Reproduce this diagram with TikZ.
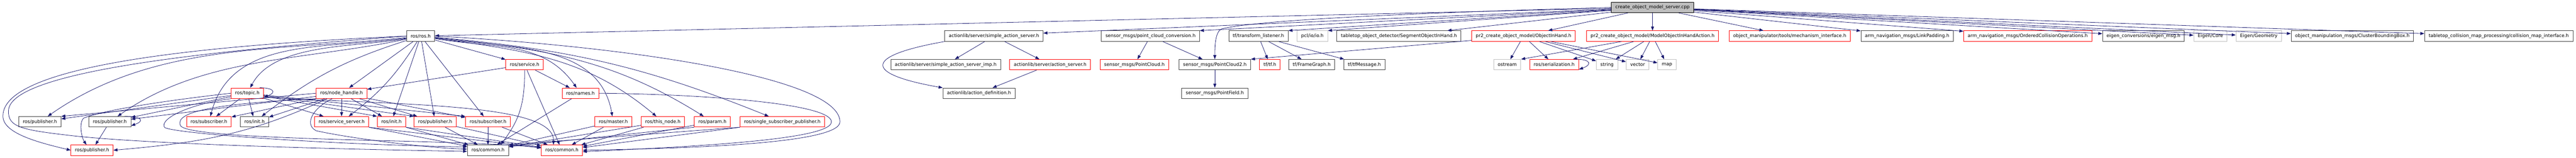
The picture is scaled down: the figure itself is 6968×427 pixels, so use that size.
\documentclass[tikz,border=0pt]{standalone}
\usepackage{fontspec}
\setmainfont{DejaVu Sans}
\usetikzlibrary{arrows.meta}
\definecolor{edgeblue}{HTML}{191970}
\definecolor{docgray}{HTML}{404040}
\definecolor{truncred}{HTML}{FF0000}
\definecolor{extgray}{HTML}{BFBFBF}
\tikzset{
    docfile/.style={
           rectangle,
           draw=docgray, line width=1.3pt,
           fill=white,
           minimum height=28.3pt,
           inner xsep=11pt, inner ysep=1pt,
           font=\fontsize{12.5}{14}\selectfont,
           text centered,
           },
    truncfile/.style={docfile, draw=truncred},
    extfile/.style={docfile, draw=extgray},
    rootfile/.style={docfile, draw=black, fill=extgray},
    inc/.style={draw=edgeblue, line width=1.1pt},
}
\begin{document}
\begin{tikzpicture}[->,>={Triangle[length=11pt,width=8pt]},
                    x=1pt,y=1pt,
                    every edge/.style={inc}]
  \useasboundingbox (0,0) rectangle (6968,-427);

  % the file itself
  \node[rootfile]  (root)    at (4470,-20.3)   {create\_object\_model\_server.cpp};

  % direct includes
  \node[docfile]   (ros)     at (1138,-97.7)   {ros/ros.h};
  \node[docfile]   (sas)     at (2688.5,-97.7) {actionlib/server/simple\_action\_server.h};
  \node[docfile]   (pcc)     at (3112,-97.7)   {sensor\_msgs/point\_cloud\_conversion.h};
  \node[docfile]   (tl)      at (3404,-97.7)   {tf/transform\_listener.h};
  \node[extfile]   (pclio)   at (3550,-97.7)   {pcl/io/io.h};
  \node[docfile]   (seg)     at (3784,-97.7)   {tabletop\_object\_detector/SegmentObjectInHand.h};
  \node[truncfile] (oih)     at (4121,-97.7)   {pr2\_create\_object\_model/ObjectInHand.h};
  \node[truncfile] (moa)     at (4470,-97.7)   {pr2\_create\_object\_model/ModelObjectInHandAction.h};
  \node[truncfile] (mech)    at (4841,-97.7)   {object\_manipulator/tools/mechanism\_interface.h};
  \node[docfile]   (linkpad) at (5158.6,-97.7) {arm\_navigation\_msgs/LinkPadding.h};
  \node[truncfile] (occ)     at (5485,-97.7)   {arm\_navigation\_msgs/OrderedCollisionOperations.h};
  \node[docfile]   (eigmsg)  at (5798,-97.7)   {eigen\_conversions/eigen\_msg.h};
  \node[extfile]   (ecore)   at (5979,-97.7)   {Eigen/Core};
  \node[extfile]   (egeom)   at (6110,-97.7)   {Eigen/Geometry};
  \node[docfile]   (cbb)     at (6363,-97.7)   {object\_manipulation\_msgs/ClusterBoundingBox.h};
  \node[docfile]   (cmi)     at (6759,-97.7)   {tabletop\_collision\_map\_processing/collision\_map\_interface.h};

  % second level
  \node[truncfile] (service) at (1419,-175.2)   {ros/service.h};
  \node[docfile]   (sasimp)  at (2558,-175.2)   {actionlib/server/simple\_action\_server\_imp.h};
  \node[truncfile] (actserv) at (2840.5,-175.2) {actionlib/server/action\_server.h};
  \node[truncfile] (pc)      at (3068.5,-175.2) {sensor\_msgs/PointCloud.h};
  \node[docfile]   (pc2)     at (3286,-175.2)   {sensor\_msgs/PointCloud2.h};
  \node[truncfile] (tftf)    at (3435,-175.2)   {tf/tf.h};
  \node[docfile]   (fg)      at (3548,-175.2)   {tf/FrameGraph.h};
  \node[docfile]   (tfmsg)   at (3690.5,-175.2) {tf/tfMessage.h};
  \node[extfile]   (ostream) at (4077,-175.2)   {ostream};
  \node[truncfile] (ser)     at (4204,-175.2)   {ros/serialization.h};
  \node[extfile]   (str)     at (4347,-175.2)   {string};
  \node[extfile]   (vec)     at (4429.5,-175.2) {vector};
  \node[extfile]   (map)     at (4509,-175.2)   {map};

  % third level
  \node[truncfile] (topic)   at (669,-252.5)    {ros/topic.h};
  \node[truncfile] (nh)      at (924,-252.5)    {ros/node\_handle.h};
  \node[truncfile] (names)   at (1570,-252.5)   {ros/names.h};
  \node[docfile]   (actdef)  at (2648,-252.5)   {actionlib/action\_definition.h};
  \node[docfile]   (pf)      at (3286,-252.5)   {sensor\_msgs/PointField.h};

  % fourth level
  \node[docfile]   (pubA)     at (108,-329.8)   {ros/publisher.h};
  \node[docfile]   (pubB)     at (297,-329.8)   {ros/publisher.h};
  \node[truncfile] (subA)     at (565,-329.8)   {ros/subscriber.h};
  \node[docfile]   (initA)    at (688.5,-329.8) {ros/init.h};
  \node[truncfile] (ss)       at (924,-329.8)   {ros/service\_server.h};
  \node[truncfile] (initB)    at (1059,-329.8)  {ros/init.h};
  \node[truncfile] (pubC)     at (1177,-329.8)  {ros/publisher.h};
  \node[truncfile] (subB)     at (1320,-329.8)  {ros/subscriber.h};
  \node[truncfile] (master)   at (1659,-329.8)  {ros/master.h};
  \node[truncfile] (thisnode) at (1793,-329.8)  {ros/this\_node.h};
  \node[truncfile] (param)    at (1927,-329.8)  {ros/param.h};
  \node[truncfile] (ssp)      at (2116,-329.8)  {ros/single\_subscriber\_publisher.h};

  % bottom level
  \node[truncfile] (pubD)    at (249,-406.8)    {ros/publisher.h};
  \node[docfile]   (comA)    at (1320,-406.8)   {ros/common.h};
  \node[truncfile] (comB)    at (1520,-406.8)   {ros/common.h};

  % includes of the file itself
  \foreach \n in {ros,seg,oih,moa,mech,linkpad,occ,eigmsg,ecore,egeom,cbb,cmi}
    \path (root) edge (\n);
  \path (root) edge ([yshift=8pt]sas.east)
        (root) edge (pcc.north east)
        (root) edge (tl.north east)
        (root) edge (pclio.north east);
  \draw[inc] (root.west) .. controls (3800,-35) and (3400,-55) .. (3305,-78)
             .. controls (3288,-85) and (3286,-120) .. (pc2.north);

  % ros/ros.h
  \draw[inc] (ros.west) .. controls (600,-120) and (10,-170) .. (8,-313)
             .. controls (6,-360) and (100,-385) .. (pubD.west);
  \draw[inc] (ros.west) .. controls (600,-135) and (25,-190) .. (23,-300)
             .. controls (21,-345) and (60,-352) .. (200,-368)
             .. controls (400,-390) and (900,-404) .. ([yshift=-3pt]comA.west);
  \draw[inc] (ros.east) .. controls (1700,-125) and (2272,-210) .. (2272,-330)
             .. controls (2272,-390) and (1850,-402) .. (comB.east);
  \path (ros) edge[out=186,in=35,looseness=0.9] (pubA)
        (ros) edge[out=192,in=35,looseness=0.9] (pubB)
        (ros) edge[out=188,in=75] (subA)
        (ros) edge[out=190,in=62,looseness=0.8] (topic)
        (ros) edge[bend right=10] (initA)
        (ros) edge (nh)
        (ros) edge[bend left=10] (ss)
        (ros) edge (initB)
        (ros) edge (pubC)
        (ros) edge (subB)
        (ros) edge (service)
        (ros) edge[out=-10,in=125] (names)
        (ros) edge[out=-8,in=100] (master)
        (ros) edge[out=-8,in=140] (thisnode)
        (ros) edge[out=-6,in=148] (param)
        (ros) edge[out=-5,in=158] (ssp);

  % ros/topic.h
  \path ([xshift=-11pt]topic.north east) edge[out=0,in=20,looseness=3.5] ([yshift=4pt]topic.south east)
        (topic) edge (subA)
        (topic) edge (initA)
        (topic) edge (ss)
        (topic) edge (initB.north west)
        (topic) edge (pubC.north west)
        (topic) edge (subB.north west)
        (topic) edge (pubA)
        (topic) edge (pubB);
  \draw[inc] (topic.west) .. controls (450,-272) and (280,-298) .. (226,-320)
             .. controls (212,-335) and (222,-375) .. ([xshift=-15pt]pubD.north);
  \draw[inc] (topic.south west) .. controls (520,-280) and (430,-320) .. (445,-345)
             .. controls (470,-362) and (900,-392) .. ([yshift=9pt]comA.west);
  \draw[inc] ([yshift=4pt]topic.south east) .. controls (1100,-285) and (1500,-280)
             .. ([xshift=-23pt]comB.north);

  % ros/node_handle.h
  \path (nh) edge (ss)
        (nh) edge (initB)
        (nh) edge (pubC)
        (nh) edge (subB)
        (nh) edge (initA)
        (nh) edge (subA)
        (nh) edge (pubB)
        (nh.west) edge (pubA.north east)
        ([xshift=30pt]nh.south west) edge[out=205,in=5] (pubD.east);
  \draw[inc] ([xshift=44pt]nh.south west) .. controls (850,-290) and (820,-335) .. (855,-354)
             .. controls (950,-375) and (1150,-400) .. ([yshift=3pt]comA.west);
  \draw[inc] (nh.south west) .. controls (600,-280) and (470,-300) .. (488,-340)
             .. controls (500,-362) and (700,-372) .. (1000,-380)
             .. controls (1250,-386) and (1400,-392) .. ([yshift=6pt]comB.west);

  % ros/service.h and ros/names.h
  \path (service) edge (nh)
        (service) edge (names)
        (service) edge (comB)
        (names) edge (comA);
  \draw[inc] (service.south) .. controls (1420,-290) and (1400,-330) .. ([xshift=-22pt]comA.north east);
  \draw[inc] (names.east) .. controls (1900,-255) and (2249,-280) .. (2249,-330)
             .. controls (2249,-380) and (1850,-398) .. ([yshift=-4pt]comB.east);

  % down to ros/common.h
  \path (ss.south east) edge (comA)
        (ss.south east) edge (comB)
        (initB.south east) edge (comA)
        (initB.south east) edge (comB)
        (pubC) edge (comA)
        (pubC) edge (comB)
        (subB) edge (comA)
        (subB) edge (comB)
        (master) edge (comA)
        (master) edge (comB)
        (thisnode) edge (comA)
        (thisnode) edge (comB)
        (param.south west) edge ([yshift=-5pt]comA.north east)
        (param) edge (comB)
        (ssp.south west) edge (comA.north east)
        (ssp) edge (comB);

  % the publishers
  \path ([xshift=-18pt]pubB.north east) edge[out=0,in=20,looseness=3.5] ([yshift=4pt]pubB.south east)
        (pubB) edge (pubD);

  % actionlib
  \path (sas) edge (sasimp)
        (sas) edge (actserv)
        (actserv) edge (actdef)
        (sas.south west) edge[out=190,in=170,looseness=4.5] (actdef.north west);

  % sensor_msgs and tf
  \path (pcc) edge (pc)
        (pcc) edge (pc2)
        (pc2) edge (pf)
        (tl) edge (tftf)
        (tl) edge (fg)
        (tl) edge (tfmsg);

  % pr2_create_object_model
  \path (oih) edge (ostream)
        (oih) edge (ser)
        (oih) edge (str)
        (oih) edge (vec)
        (oih) edge (map)
        (oih) edge (pc2.north east)
        (moa) edge (ostream.north east)
        (moa) edge (ser)
        (moa) edge (str)
        (moa) edge (vec)
        (moa) edge (map)
        ([xshift=-8pt]ser.north east) edge[out=0,in=20,looseness=3.5] ([yshift=2pt]ser.south east);

\end{tikzpicture}
\end{document}
